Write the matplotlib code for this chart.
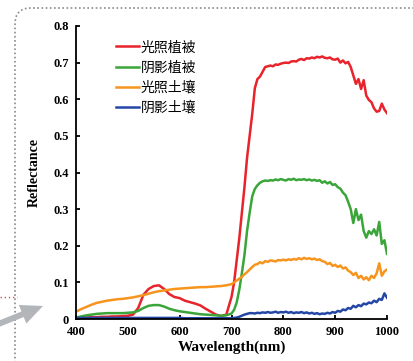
import matplotlib
matplotlib.use("Agg")
import matplotlib.pyplot as plt
from matplotlib.patches import FancyBboxPatch, FancyArrow
from matplotlib.transforms import IdentityTransform

# wavelength grid (nm): coarse in the visible, finer in the NIR
wl = list(range(400, 700, 10)) + list(range(700, 1001, 5))

sunlit_veg = [
    0.003, 0.004, 0.004, 0.005, 0.005, 0.006, 0.006, 0.007, 0.007, 0.008,
    0.009, 0.012, 0.030, 0.066, 0.082, 0.090, 0.092, 0.082, 0.068, 0.060,
    0.057, 0.050, 0.046, 0.042, 0.037, 0.028, 0.020, 0.012, 0.008, 0.012,
    0.060, 0.100, 0.160, 0.220, 0.290, 0.360, 0.440, 0.500, 0.560, 0.630,
    0.655, 0.662, 0.675, 0.688, 0.690, 0.692, 0.690, 0.695, 0.694, 0.697,
    0.699, 0.700, 0.699, 0.703, 0.704, 0.703, 0.708, 0.710, 0.707, 0.712,
    0.711, 0.714, 0.712, 0.716, 0.714, 0.717, 0.713, 0.712, 0.714, 0.709,
    0.708, 0.711, 0.700, 0.706, 0.698, 0.702, 0.688, 0.665, 0.642, 0.655,
    0.628, 0.652, 0.610, 0.598, 0.592, 0.575, 0.566, 0.568, 0.588, 0.572,
    0.562,
]
shaded_veg = [
    0.004, 0.007, 0.010, 0.012, 0.014, 0.015, 0.016, 0.016, 0.016, 0.016,
    0.017, 0.018, 0.022, 0.030, 0.036, 0.038, 0.038, 0.034, 0.028, 0.024,
    0.021, 0.019, 0.017, 0.015, 0.013, 0.012, 0.011, 0.010, 0.009, 0.010,
    0.015, 0.025, 0.045, 0.080, 0.125, 0.175, 0.240, 0.290, 0.335, 0.355,
    0.365, 0.372, 0.376, 0.378, 0.377, 0.379, 0.378, 0.381, 0.379, 0.382,
    0.380, 0.378, 0.382, 0.380, 0.383, 0.379, 0.381, 0.380, 0.382, 0.379,
    0.381, 0.378, 0.380, 0.377, 0.379, 0.372, 0.376, 0.370, 0.374, 0.366,
    0.368, 0.360, 0.356, 0.345, 0.338, 0.320, 0.300, 0.262, 0.300, 0.270,
    0.285, 0.240, 0.222, 0.240, 0.232, 0.245, 0.228, 0.265, 0.205, 0.215,
    0.178,
]
sunlit_soil = [
    0.020, 0.027, 0.033, 0.039, 0.044, 0.047, 0.050, 0.052, 0.054, 0.055,
    0.057, 0.059, 0.062, 0.065, 0.069, 0.073, 0.076, 0.078, 0.080, 0.082,
    0.083, 0.084, 0.085, 0.086, 0.087, 0.087, 0.088, 0.089, 0.090, 0.092,
    0.095, 0.100, 0.105, 0.110, 0.115, 0.122, 0.128, 0.135, 0.142, 0.148,
    0.150, 0.155, 0.152, 0.158, 0.156, 0.160, 0.159, 0.157, 0.161, 0.160,
    0.162, 0.160, 0.163, 0.161, 0.164, 0.162, 0.166, 0.163, 0.167, 0.164,
    0.166, 0.163, 0.165, 0.161, 0.163, 0.158, 0.156, 0.150, 0.153, 0.145,
    0.148, 0.142, 0.146, 0.138, 0.141, 0.132, 0.128, 0.120, 0.126, 0.112,
    0.118, 0.108, 0.114, 0.106, 0.118, 0.112, 0.125, 0.152, 0.118, 0.130,
    0.135,
]
shaded_soil = [
    0.003, 0.003, 0.003, 0.003, 0.003, 0.003, 0.003, 0.003, 0.003, 0.003,
    0.003, 0.003, 0.003, 0.003, 0.003, 0.003, 0.003, 0.003, 0.003, 0.003,
    0.003, 0.002, 0.002, 0.002, 0.002, 0.002, 0.002, 0.002, 0.002, 0.002,
    0.002, 0.003, 0.004, 0.006, 0.009, 0.012, 0.014, 0.016, 0.016, 0.015,
    0.017, 0.016, 0.018, 0.017, 0.019, 0.017, 0.018, 0.020, 0.017, 0.019,
    0.018, 0.020, 0.017, 0.019, 0.016, 0.018, 0.017, 0.019, 0.016, 0.018,
    0.015, 0.017, 0.014, 0.016, 0.013, 0.015, 0.014, 0.017, 0.015, 0.019,
    0.017, 0.022, 0.020, 0.026, 0.024, 0.030, 0.028, 0.036, 0.032, 0.038,
    0.035, 0.042, 0.040, 0.045, 0.043, 0.050, 0.046, 0.055, 0.052, 0.070,
    0.058,
]

labels = ["光照植被", "阴影植被", "光照土壤", "阴影土壤"]
colors = ["#e8232b", "#3aa539", "#f7941d", "#2447a6"]
x_ticks = [400, 500, 600, 700, 800, 900, 1000]
y_ticks = [0, 0.1, 0.2, 0.3, 0.4, 0.5, 0.6, 0.7, 0.8]
y_tick_labels = ["0", "0.1", "0.2", "0.3", "0.4", "0.5", "0.6", "0.7", "0.8"]

serif = "Liberation Serif"

fig = plt.figure(figsize=(4.14, 3.61), dpi=100)
ax = fig.add_axes([76 / 414, 1 - 319 / 361, 311 / 414, 293 / 361])

for series, lab, col in zip([sunlit_veg, shaded_veg, sunlit_soil, shaded_soil], labels, colors):
    ax.plot(wl, series, color=col, lw=1.8, label=lab)

ax.set_xlim(400, 1000)
ax.set_ylim(0, 0.8)
ax.set_xticks(x_ticks)
ax.set_yticks(y_ticks)
ax.set_yticklabels(y_tick_labels)
for s in ["top", "right"]:
    ax.spines[s].set_visible(False)
for s in ["left", "bottom"]:
    ax.spines[s].set_linewidth(1.3)
ax.tick_params(direction="in", length=3, width=1.3, labelsize=9, pad=5)
for t in ax.get_xticklabels() + ax.get_yticklabels():
    t.set_fontfamily(serif)
    t.set_fontweight("bold")

ax.set_xlabel("Wavelength(nm)", fontfamily=serif, fontweight="bold", fontsize=11, labelpad=2)
ax.set_ylabel("Reflectance", fontfamily=serif, fontweight="bold", fontsize=10, labelpad=9)

ax.legend(loc="upper left", bbox_to_anchor=(0.105, 0.975), frameon=False,
          prop={"family": ["Noto Sans CJK SC", "DejaVu Sans"], "size": 10, "weight": "medium"},
          handlelength=1.7, handletextpad=0.1, labelspacing=0.45, borderpad=0)

# page decorations: dotted rounded frame, red dotted stub, grey arrow
frame = FancyBboxPatch((15, -20), 430, 373, boxstyle="round,pad=0,rounding_size=16",
                       transform=IdentityTransform(), fill=False, edgecolor="#8a8a8a",
                       linestyle=(0, (1, 1.5)), linewidth=1.2)
fig.patches.append(frame)
fig.lines.append(plt.Line2D([0, 17], [361 - 297, 361 - 297], transform=IdentityTransform(),
                            color="#e05050", linestyle=(0, (1, 2)), linewidth=1))
arrow = FancyArrow(-4, 361 - 325, 47, 19, width=6, head_width=20, head_length=22,
                   length_includes_head=True, transform=IdentityTransform(),
                   color="#b2b5b9", linewidth=0)
fig.patches.append(arrow)

fig.savefig("out.png", dpi=100)
